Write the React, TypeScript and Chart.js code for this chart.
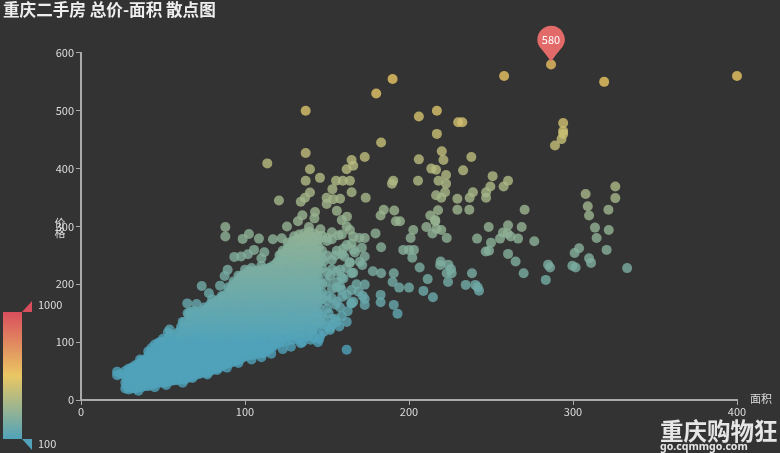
import React, { useEffect, useRef } from "react";
import { Chart, registerables } from "chart.js";

Chart.register(...registerables);

const FONT = '"Noto Sans CJK SC", "Noto Sans", sans-serif';
const titleText = "重庆二手房 总价-面积 散点图";
const xName = "面积";
const yName = ["价", "格"];
const brandName = "重庆购物狂";
const brandUrl = "go.cqmmgo.com";
const rangeMax = 1000;
const rangeMid = 550;
const rangeMin = 100;
const rangeColors = ["#50a3ba", "#eac763", "#d94e5d"];
const pinArea = 286.6;
const pinPrice = 580;

// individually read points in the sparse part of the plot: [area, price]
const upperPoints = [
  [400,560],[319,550],[286.6,580],[258,560],[190,555],[137,500],[180,530],[206,490],[217,500],[230,480],[232.5,480],
  [217,460],[183,445],[294,479],[294,465],[294,460],[293,451],[289,440],[220,430],[221,415],[238,420],[206,416],
  [173,420],[165,415],[166,405],[162,399],[213.6,400],[216.5,398],[233,397],[222.6,389],[218,379],[222.6,374],
  [205.5,379],[190.4,379],[189.6,374],[251,387],[260.4,379],[257.7,369],[249.6,369],[247,359],[247,349.5],[239,359],
  [237,349.5],[229.5,348],[222,359],[216.5,354],[219.7,349.5],[173.6,349.5],[165,359],[164,379],[229.5,329],[236.8,329],
  [217.7,328],[270.5,329],[213,319],[216,311],[184.6,329],[182.7,319],[191,327.5],[192,309],[194.5,309],[216,309],
  [137,427],[113.6,409],[139.6,399],[137,379],[145.7,384],[155.5,379],[159.6,379],[153.3,364.5],[139.6,358.7],
  [136.6,349.5],[134,342.6],[120.7,345],[149.8,349.5],[149.8,339],[153.8,347],[158,348],[156,327],[162.2,317],[159,311],
  [142.7,325],[142.3,314],[135,319.5],[132.3,309],[125.6,300],[88,299],[88,282.5],[102.4,287],[98.6,278.5],[108.5,279],
  [117,278],[122.4,279.6],[139,299],[162,300],[105.5,259.5],[101.8,252],[97.6,248],[93.5,247.4],[111.8,255.5],
  [325.8,369],[325.8,349],[307.7,356],[309,335],[309.8,319],[321.6,329],[313.4,298],[321.8,294],[314.4,280],[320.5,259.5],
];

const middlePoints = [
  [210.6,299],[216.7,296],[214.3,288],[219.7,294],[223,280],[202.6,294],[201,280],[179.6,288],[173,280],[166,282.5],
  [169.7,280],[164,294],[183,264],[171.3,263],[167,255],[196.5,259.5],[200,259.5],[203,259.5],[202,246],[173,248],
  [170,239],[171.5,233.5],[164,237.5],[206.5,229],[178,222.6],[183,219],[190.7,219],[165,219],[190,204],[194,194.3],
  [200,194.3],[211.4,209],[208.8,188.6],[214.6,177.6],[223.8,204],[219.3,239.3],[219,233.5],[224,234],[225.6,226.6],
  [226,219],[223,219],[238.4,219],[234.6,199],[240.4,199],[241.9,195],[242.7,189],[248.6,299],[260.4,302],[268.7,299],
  [257.3,289.5],[260,288],[262,282.5],[255.5,279],[266.5,279],[241.5,279],[250,272],[276.4,274.5],[246.8,256.6],[248.8,258],
  [260.4,252.6],[265,239.3],[269.9,219],[284.8,234],[286,229],[283.4,207.6],[182.7,181.7],[182.7,169],[190.7,164.4],
  [193,149.3],[173,199.5],[169.3,187.4],[171.7,180],[173,174.7],[173,164.4],[165,167],[303.7,262.4],[301,254],[309.8,245],
  [311,237],[299.6,232],[301.6,229],[333,228],[89.4,225],[87.6,214.5],[73.6,197],[84.8,197.7],[78,184.5],[80,174],
  [64.8,167],[70.5,166],[160.5,248],[163.8,237.6],[158,196],[159.3,178.7],[164.8,167],[162.6,153.5],[157.5,127],
  [151.8,121],[141.2,121],[145.3,105.5],[162,87],[144.5,100],
];

// lumps along the rim of the dense cloud
const rimPoints = [
  [36,70],[41,84],[48,100],[50,106],[54,122],[60,118],[62,135],[66,150],[70,145],[75,160],[80,165],[86,180],[90,195],
  [93,205],[96,215],[100,225],[104,228],[110,232],[115,228],[120,240],[126,262],[110,245],
  [35,16],[45,22],[52,26],[62,30],[68,38],[77,44],[83,52],[89,56],[96,64],[104,70],[110,74],[116,80],[123,88],[128,92],
  [134,98],[140,104],[146,112],[152,125],[148,140],[151,150],[155,165],[150,180],[156,195],[152,215],[158,225],[148,240],
  [155,250],[160,262],[153,290],[146,295],[150,275],[157,285],[165,270],[168,200],[165,190],[160,210],[155,140],[158,160],
  [148,118],[142,108],[135,100],[153,130],
];

// the dense cloud, read column by column
const denseAreas = [22,24,27,29,31,33,35,37,39,41,43,45,47,49,51,53,55,57,59,61,63,65,67,69,71,73,75,77,79,81,83,85,87,89,91,93,95,97,99,101,103,105,107,109,111,113,115,117,119,121,123,126,129,132,135,138,141,144,147,150,153,156,159,162,166];
const densePrices = [
  [43,49],[45],[20,30,42,50],[18,28,38,48,54],[20,26,36,46,56],[20,30,40,52,60],[22,27,38,50,62],
  [22,34,46,58,68],[24,32,44,56,70],[24,36,48,60,76],[26,35,47,60,74,90],[28,38,50,62,76,96],
  [30,40,52,64,74,84,98],[30,38,50,62,76,88,100],[30,42,54,66,78,90,102],[32,44,56,68,80,94,117],
  [33,42,54,66,78,92,112],[34,46,58,70,82,96,106],[34,42,54,66,78,90,104,116],[36,48,60,72,84,96,112,126],
  [35,44,56,68,80,92,106,120,135],[38,50,62,74,86,98,110,124,150],[40,52,64,76,88,100,112,126,140,152],
  [43,54,66,78,90,102,114,128,145,154],[44,56,68,80,92,104,118,132,146,152],[46,58,70,82,94,106,120,134,150],
  [48,60,72,84,96,108,122,136,150,155],[47,56,68,80,92,104,116,128,140,150,158],[50,60,72,84,96,108,120,132,144,156,166],
  [53,64,76,88,100,112,124,136,148,160,168],[55,66,78,90,102,114,126,138,150,162,172],[57,68,80,92,104,116,128,140,152,164,176],
  [60,72,84,96,108,120,132,144,156,168,180],[63,74,86,98,110,122,134,146,158,170,184],[64,76,88,100,112,124,136,148,160,172,186,192],
  [66,78,90,102,114,126,138,150,162,174,188,200],[68,80,92,104,116,128,140,152,164,176,190,204],
  [70,82,94,106,118,130,142,154,166,178,192,206,212],[74,86,98,110,122,134,146,158,170,182,194,208,216],
  [76,88,100,112,124,136,148,160,172,184,196,208,220],[78,90,102,114,126,138,150,162,174,186,198,210,224],
  [78,91,103,115,127,139,151,163,175,187,199,211,222],[80,92,104,116,128,140,152,164,176,188,200,212,224],
  [81,93,105,117,129,141,153,165,177,189,201,213,224],[81,94,106,118,130,142,154,166,178,190,202,214,226],
  [84,96,108,120,132,144,156,168,180,192,204,216,226],[88,98,110,122,134,146,158,170,182,194,206,218,228],
  [92,102,114,126,138,150,162,174,186,198,210,222,232],[96,106,118,130,142,154,166,178,190,202,214,226,236],
  [100,110,122,134,146,158,170,182,194,206,218,230,240,250],[100,112,124,136,148,160,172,184,196,208,220,232,245,258],
  [102,114,126,138,150,162,174,186,198,210,222,234,246,260,272],[104,116,128,140,152,164,176,188,200,212,224,236,248,262,275],
  [106,118,130,142,154,166,178,190,202,214,226,238,250,264,278],[108,120,132,144,156,168,180,192,204,216,228,240,252,266,280],
  [110,124,136,148,160,172,184,196,208,220,232,244,256,270,284],[118,130,142,156,168,180,192,206,218,230,242,254,268,282],
  [128,140,152,166,178,190,204,216,230,244,258,272,284],[132,146,174,186,200,228,244,258,284],
  [128,158,172,204,220,250,280],[140,176,192,226,242,278],[135,170,204,222,258],
  [145,190,212,252,286],[135,182,228,268],[170,220,260],
];

// second reading of the same cloud, between the columns above
const fillAreas = [28,30,32,34,36,38,40,42,44,46,48,50,52,54,56,58,60,62,64,66,68,70,72,74,76,78,80,82,84,86,88,90,92,94,96,98,100,102,104,106,108,110,112,114,116,118,120,122,124,127,130,133,136,139,142,145];
const fillPrices = [
  [24,34,44],[22,32,42,52],[24,34,45,55],[25,33,44,56],[28,40,52,63],[26,38,50,64],[30,42,54,66],[30,42,54,67,82],
  [31,43,55,68,83],[33,45,57,69,82,92],[35,46,57,70,80,92],[36,46,56,70,82,96],[37,50,62,74,86,98],[38,50,60,72,85,100,110],
  [39,50,60,72,88,101],[40,52,64,76,88,100],[41,50,60,72,84,94,108],[42,54,66,78,88,100,114,124],[41,52,62,74,86,103,115,128],
  [44,56,68,80,92,104,118,133,146],[46,58,70,82,94,106,120,133,146],[48,60,72,84,96,110,122,138,150],[50,62,74,86,98,112,126,140],
  [52,64,76,88,100,114,128,142],[54,62,74,86,98,110,122,134,145,156],[54,66,78,90,102,114,126,138,150,162],
  [58,70,82,94,106,118,130,142,154,164],[60,72,84,96,108,120,132,144,156,166],[62,74,86,98,110,122,134,146,158,170],
  [64,78,90,102,114,126,138,150,162,174],[68,80,92,104,116,128,140,152,164,176],[70,82,94,106,118,130,142,154,166,178],
  [72,84,96,108,120,132,144,156,168,180,194],[74,86,98,110,122,134,146,158,170,182,196],[76,88,100,112,124,136,148,160,172,184,198],
  [80,92,104,116,128,140,152,164,176,188,200,214],[82,94,106,118,130,142,154,166,178,190,202,214],[84,96,108,120,132,144,156,168,180,192,204,216],
  [86,97,109,121,133,145,157,169,181,193,205,217],[85,98,110,122,134,146,158,170,182,194,206,218],[87,99,111,123,135,147,159,171,183,195,207,219],
  [88,100,112,124,136,148,160,172,184,196,208,220],[90,100,112,124,136,148,160,172,184,196,208,220],[92,102,114,126,138,150,162,174,186,198,210,222],
  [95,104,116,128,140,152,164,176,188,200,212,224],[98,108,120,132,144,156,168,180,192,204,216,228],[104,116,128,140,152,164,176,188,200,212,224,236],
  [106,118,130,142,154,166,178,190,202,214,226,238,252],[108,120,132,144,156,168,180,192,204,216,228,240,254],
  [110,122,136,146,158,170,184,194,206,218,230,242,256,268],[112,124,134,146,160,170,182,194,208,218,232,244,256,270,283],
  [112,126,136,148,162,172,184,196,208,222,232,246,258,272,286],[114,126,138,152,162,174,186,200,210,224,234,246,260,274,288],
  [116,130,142,154,166,178,190,202,214,226,238,250,262,276,291],[124,136,148,162,174,186,198,212,224,236,248,262,276,288],
  [134,148,160,172,184,198,210,224,238,250,264,278],
];

const densePoints = denseAreas.flatMap((area, i) => densePrices[i].map((price) => [area, price]));
const fillPoints = fillAreas.flatMap((area, i) => fillPrices[i].map((price) => [area, price]));
const allPoints = [...densePoints, ...fillPoints, ...rimPoints, ...middlePoints, ...upperPoints];

function hexToRgb(hex: string) {
  return [1, 3, 5].map((i) => parseInt(hex.slice(i, i + 2), 16));
}

function priceColor(price: number) {
  const p = Math.max(rangeMin, Math.min(rangeMax, price));
  const low = p <= rangeMid;
  const t = low ? (p - rangeMin) / (rangeMid - rangeMin) : (p - rangeMid) / (rangeMax - rangeMid);
  const a = hexToRgb(low ? rangeColors[0] : rangeColors[1]);
  const b = hexToRgb(low ? rangeColors[1] : rangeColors[2]);
  const c = a.map((v, i) => Math.round(v + (b[i] - v) * t));
  return `rgba(${c[0]},${c[1]},${c[2]},0.8)`;
}

const decorations = {
  id: "decorations",
  afterDatasetsDraw(chart: any) {
    const { ctx, scales } = chart;
    ctx.save();
    // visual map legend
    const grad = ctx.createLinearGradient(0, 312, 0, 439);
    grad.addColorStop(0, rangeColors[2]);
    grad.addColorStop(0.5, rangeColors[1]);
    grad.addColorStop(1, rangeColors[0]);
    ctx.fillStyle = grad;
    ctx.fillRect(3, 312, 19, 127);
    ctx.fillStyle = rangeColors[2];
    ctx.beginPath();
    ctx.moveTo(22, 312);
    ctx.lineTo(32, 301);
    ctx.lineTo(32, 312);
    ctx.closePath();
    ctx.fill();
    ctx.fillStyle = rangeColors[0];
    ctx.beginPath();
    ctx.moveTo(22, 439);
    ctx.lineTo(32, 439);
    ctx.lineTo(32, 450);
    ctx.closePath();
    ctx.fill();
    ctx.fillStyle = "#dddddd";
    ctx.font = `11px ${FONT}`;
    ctx.textAlign = "left";
    ctx.textBaseline = "middle";
    ctx.fillText(String(rangeMax), 38, 305);
    ctx.fillText(String(rangeMin), 38, 444);

    // axis names
    ctx.fillStyle = "#dddddd";
    ctx.textAlign = "center";
    ctx.fillText(xName, 761, 399);
    ctx.fillText(yName[0], 60, 223);
    ctx.fillText(yName[1], 60, 233);

    // mark pin
    const px = scales.x.getPixelForValue(pinArea);
    const py = scales.y.getPixelForValue(pinPrice);
    const cy = py - 25;
    const r = 13.7;
    ctx.fillStyle = "#e26b6a";
    ctx.beginPath();
    ctx.arc(px, cy, r, Math.PI * 0.82, Math.PI * 0.18);
    ctx.quadraticCurveTo(px + 5, cy + 15, px, py - 3);
    ctx.quadraticCurveTo(px - 5, cy + 15, px - r * Math.cos(Math.PI * 0.18), cy + r * Math.sin(Math.PI * 0.18));
    ctx.closePath();
    ctx.fill();
    ctx.fillStyle = "#ffffff";
    ctx.fillText(String(pinPrice), px, cy);

    // watermark
    ctx.fillStyle = "#e6e6e6";
    ctx.textAlign = "left";
    ctx.font = `bold 23.5px ${FONT}`;
    ctx.fillText(brandName, 660, 431);
    ctx.font = `bold 10.6px "Noto Sans", sans-serif`;
    ctx.fillText(brandUrl, 660, 447);
    ctx.restore();
  },
};

export default function App() {
  const ref = useRef<HTMLCanvasElement>(null);
  useEffect(() => {
    const chart = new Chart(ref.current as HTMLCanvasElement, {
      type: "scatter",
      data: {
        datasets: [
          {
            data: allPoints.map(([x, y]) => ({ x, y })),
            pointRadius: 5,
            pointHoverRadius: 5,
            pointBorderWidth: 0,
            clip: false,
            pointBackgroundColor: allPoints.map(([, y]) => priceColor(y)),
          },
        ],
      },
      options: {
        responsive: false,
        animation: false,
        layout: { padding: { left: 3, right: 43, top: 0, bottom: 0 } },
        plugins: {
          legend: { display: false },
          tooltip: { enabled: false },
          title: {
            display: true,
            text: titleText,
            align: "start",
            color: "#eeeeee",
            font: { family: FONT, size: 16.6, weight: "bold", lineHeight: 1.2 },
            padding: { top: 0, bottom: 33 },
          },
        },
        scales: {
          x: {
            type: "linear",
            min: 0,
            max: 400,
            afterFit: (s: any) => { s.height = 53; },
            border: { color: "#aaaaaa", width: 2 },
            grid: { drawOnChartArea: false, drawTicks: true, tickLength: 5, tickColor: "#aaaaaa" },
            ticks: { stepSize: 100, color: "#dddddd", padding: 0, maxRotation: 0, font: { family: FONT, size: 11 } },
          },
          y: {
            type: "linear",
            min: 0,
            max: 600,
            afterFit: (s: any) => { s.width = 78; },
            border: { color: "#aaaaaa", width: 2 },
            grid: { drawOnChartArea: false, drawTicks: true, tickLength: 5, tickColor: "#aaaaaa" },
            ticks: { stepSize: 100, color: "#dddddd", padding: 2, font: { family: FONT, size: 11 } },
          },
        },
      },
      plugins: [decorations],
    } as any);
    return () => chart.destroy();
  }, []);
  return (
    <div style={{ position: "absolute", left: 0, top: 0, width: 780, height: 453, background: "#333333" }}>
      <canvas ref={ref} width={780} height={453} style={{ display: "block" }} />
    </div>
  );
}
